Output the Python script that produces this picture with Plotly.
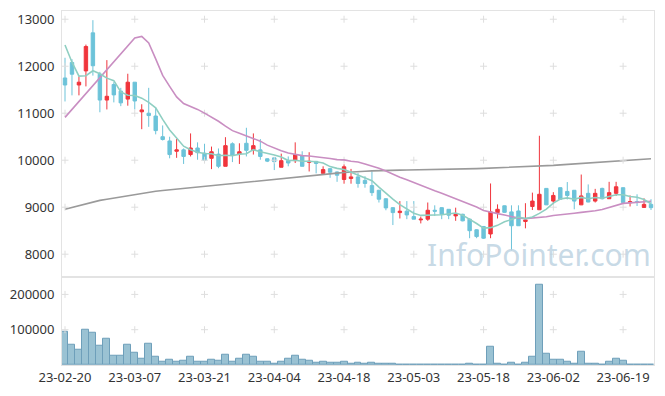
import plotly.graph_objects as go
from plotly.subplots import make_subplots

dates = ["23-02-20","23-02-21","23-02-22","23-02-23","23-02-24","23-02-27","23-02-28",
         "23-03-02","23-03-03","23-03-06","23-03-07","23-03-08","23-03-09","23-03-10",
         "23-03-13","23-03-14","23-03-15","23-03-16","23-03-17","23-03-20","23-03-21",
         "23-03-22","23-03-23","23-03-24","23-03-27","23-03-28","23-03-29","23-03-30",
         "23-03-31","23-04-03","23-04-04","23-04-05","23-04-06","23-04-07","23-04-10",
         "23-04-11","23-04-12","23-04-13","23-04-14","23-04-17","23-04-18","23-04-19",
         "23-04-20","23-04-21","23-04-24","23-04-25","23-04-26","23-04-27","23-04-28",
         "23-05-02","23-05-03","23-05-04","23-05-08","23-05-09","23-05-10","23-05-11",
         "23-05-12","23-05-15","23-05-16","23-05-17","23-05-18","23-05-19","23-05-22",
         "23-05-23","23-05-24","23-05-25","23-05-26","23-05-30","23-05-31","23-06-01",
         "23-06-02","23-06-05","23-06-07","23-06-08","23-06-09","23-06-12","23-06-13",
         "23-06-14","23-06-15","23-06-16","23-06-19","23-06-20","23-06-21","23-06-22",
         "23-06-23"]

open_ = [11750,12080,11600,11900,12710,11830,11280,11610,11470,11300,
         11660,11030,11000,10940,10500,10410,10190,10220,10120,10260,
         10150,10040,10130,9870,10350,10130,10360,10220,10220,10030,
         10050,9850,9990,9990,10100,9955,9975,9720,9820,9750,
         9590,9610,9645,9570,9460,9360,9180,8990,8885,8915,
         8800,8730,8745,8935,8990,8955,8815,8850,8745,8520,
         8590,8430,8885,9030,8900,8920,8695,9015,8945,9400,
         9130,9415,9335,9360,9050,9295,9130,9400,9180,9295,
         9415,9095,9120,8995,9060]
high = [12180,12150,11780,12460,12980,11880,12130,11660,11540,11840,
        11660,11190,11540,11120,10740,10500,10450,10250,10570,10380,
        10350,10290,10250,10490,10380,10360,10690,10570,10450,10040,
        10060,10140,10080,10380,10190,10170,9985,9870,9830,9760,
        9910,9815,9730,9660,9765,9370,9190,9000,9130,9130,
        9130,8800,9100,9040,9000,8960,8990,8860,8760,8530,
        8600,9505,9060,9035,9040,9040,9085,9310,10520,9405,
        9320,9420,9535,9365,9695,9485,9390,9415,9540,9540,
        9420,9250,9275,9190,9170]
low = [11250,11380,11380,11570,11800,11020,11080,11230,11150,11160,
       11080,10660,10710,10550,10420,10040,10050,9920,10080,10010,
       9940,9810,9830,9870,9960,9920,10080,10120,10010,9960,
       9790,9850,9870,9940,9870,9760,9720,9720,9625,9540,
       9500,9500,9415,9415,9240,9100,8935,8620,8760,8745,
       8745,8655,8710,8815,8745,8745,8710,8700,8340,8340,
       8325,8340,8760,8880,8080,8600,8550,8940,8940,9045,
       9060,9160,9165,8955,9045,9105,9100,9165,9175,9240,
       9085,9015,9025,8990,8940]
close = [11600,11830,11660,12420,12010,11280,11360,11390,11220,11660,
         11260,11070,10950,10630,10440,10120,10220,10080,10260,10160,
         10000,10180,9870,10310,10110,10180,10210,10310,10080,9980,
         9970,9990,9940,10120,9870,9975,9930,9800,9745,9680,
         9860,9645,9505,9505,9310,9170,8985,8885,8915,8835,
         8745,8745,8935,8915,8850,8830,8850,8710,8500,8375,
         8340,8900,8955,8890,8605,8605,8730,9130,9275,9050,
         9250,9170,9250,9130,9240,9110,9295,9180,9310,9435,
         9100,9120,9100,9060,8990]
volume = [93900,57300,44100,101000,91100,54500,74200,26300,26300,57300,
          34700,17800,60100,23500,9400,15000,9400,12200,23500,9400,
          9400,15000,12200,29100,9400,17800,29100,23500,9400,9400,
          3800,9400,17800,26300,15000,12200,6600,9400,6600,6600,
          9400,3800,6600,2500,6600,3800,3800,3800,2000,2000,
          2000,2000,2000,2000,0,0,2000,0,3800,0,
          0,51600,3800,0,6600,2000,6600,23500,227200,31900,
          15000,15000,9400,3800,37600,3800,3800,2000,9400,17800,
          12200,2000,2000,2000,2000]
ma5 = [12450,12085,11790,11797,11904,11840,11746,11692,11452,11382,
       11378,11320,11232,11114,10870,10642,10472,10298,10224,10168,
       10144,10136,10094,10104,10094,10130,10136,10224,10178,10152,
       10110,10066,9992,10000,9978,9979,9967,9939,9864,9826,
       9803,9746,9687,9639,9565,9427,9295,9171,9053,8958,
       8873,8825,8835,8835,8838,8855,8876,8831,8748,8653,
       8555,8565,8614,8692,8738,8791,8757,8792,8869,8958,
       9087,9175,9199,9170,9208,9180,9205,9191,9227,9266,
       9264,9229,9213,9163,9074]
ma20 = [10911,11080,11252,11420,11587,11757,11926,12095,12264,12433,
        12602,12634,12494,12156,11805,11572,11347,11207,11150,11081,
        11001,10919,10829,10724,10629,10574,10516,10462,10405,10321,
        10257,10203,10152,10127,10098,10091,10076,10062,10037,10013,
        10006,9979,9961,9920,9880,9830,9769,9697,9639,9582,
        9521,9458,9408,9348,9297,9240,9186,9131,9069,9004,
        8928,8890,8863,8832,8797,8769,8756,8768,8786,8797,
        8822,8843,8859,8870,8889,8903,8926,8949,8990,9043,
        9081,9092,9099,9107,9127]
ma120 = [8956,8995,9035,9075,9115,9145,9170,9195,9220,9245,
         9270,9300,9320,9340,9355,9370,9385,9400,9415,9430,
         9447,9463,9480,9497,9513,9530,9546,9560,9574,9588,
         9602,9616,9630,9644,9658,9671,9684,9698,9711,9724,
         9738,9751,9758,9765,9772,9779,9785,9787,9789,9791,
         9793,9795,9796,9797,9799,9800,9805,9810,9816,9821,
         9827,9832,9838,9843,9848,9854,9859,9865,9870,9880,
         9890,9900,9910,9920,9930,9940,9950,9960,9970,9980,
         9992,10002,10012,10022,10032]

price_ticks = [8000, 9000, 10000, 11000, 12000, 13000]
volume_ticks = [100000, 200000]
x_ticks = dates[::10]

UP = "#f0353c"
DOWN = "#6cc3d9"
FONT = "Noto Sans"

fig = make_subplots(rows=2, cols=1, shared_xaxes=True, vertical_spacing=0,
                    row_heights=[268, 89])

fig.add_trace(go.Scatter(x=dates, y=ma120, mode="lines", hoverinfo="skip",
                         line=dict(color="#9a9a9a", width=1.6)), row=1, col=1)
fig.add_trace(go.Bar(x=dates, y=volume, width=1.0,
                     marker=dict(color="#9ac2d3", line=dict(color="#6e9fba", width=1))),
              row=2, col=1)

# grid cross markers
gx = [d for d in x_ticks for _ in price_ticks]
gy = [p for _ in x_ticks for p in price_ticks]
fig.add_trace(go.Scatter(x=gx, y=gy, mode="markers", hoverinfo="skip",
                         marker=dict(symbol="cross-thin", size=5, color="#dedede",
                                     line=dict(color="#dedede", width=1))), row=1, col=1)
vx = [d for d in x_ticks for _ in volume_ticks]
vy = [p for _ in x_ticks for p in volume_ticks]
fig.add_trace(go.Scatter(x=vx, y=vy, mode="markers", hoverinfo="skip",
                         marker=dict(symbol="cross-thin", size=5, color="#dedede",
                                     line=dict(color="#dedede", width=1))), row=2, col=1)

fig.add_trace(go.Scatter(x=dates, y=ma20, mode="lines",
                         line=dict(color="#c98ec2", width=1.6)), row=1, col=1)
fig.add_trace(go.Candlestick(x=dates, open=open_, high=high, low=low, close=close,
                             increasing=dict(line=dict(color=UP, width=1), fillcolor=UP),
                             decreasing=dict(line=dict(color=DOWN, width=1), fillcolor=DOWN),
                             whiskerwidth=0), row=1, col=1)
fig.add_trace(go.Scatter(x=dates, y=ma5, mode="lines",
                         line=dict(color="#8fcfc2", width=1.6)), row=1, col=1)

fig.update_layout(
    width=665, height=396, showlegend=False,
    margin=dict(l=61, r=10, t=10, b=29),
    paper_bgcolor="white", plot_bgcolor="white",
    font=dict(family=FONT, size=13, color="#333333"),
    bargap=0,
)
axis_common = dict(showgrid=False, zeroline=False, showline=True, linecolor="#e3e3e3",
                   linewidth=1, mirror=True, ticks="")
fig.update_xaxes(type="category", categoryorder="array", categoryarray=dates,
                 range=[-0.43, 84.43], rangeslider_visible=False,
                 tickvals=x_ticks, ticktext=x_ticks, tickangle=0, **axis_common)
fig.update_xaxes(showticklabels=False, row=1, col=1)
fig.update_xaxes(showticklabels=True, tickfont=dict(size=13, color="#333333"), row=2, col=1)
fig.update_yaxes(range=[7520, 13175], tickvals=price_ticks, tickformat="d",
                 ticklabelstandoff=4,
                 tickfont=dict(size=13, color="#333333"), row=1, col=1, **axis_common)
fig.update_yaxes(range=[0, 250000], tickvals=volume_ticks, tickformat="d",
                 ticklabelstandoff=4,
                 tickfont=dict(size=13, color="#333333"), row=2, col=1, **axis_common)

fig.add_annotation(text="InfoPointer.com", xref="paper", yref="paper",
                   x=0.806, y=0.311, xanchor="center", yanchor="middle", showarrow=False,
                   font=dict(family=FONT, size=30, color="rgba(185,208,224,0.8)"))

fig.write_html("out.html", config={"displayModeBar": False},
               post_script="document.body.style.margin='0';document.body.style.overflow='hidden';")
